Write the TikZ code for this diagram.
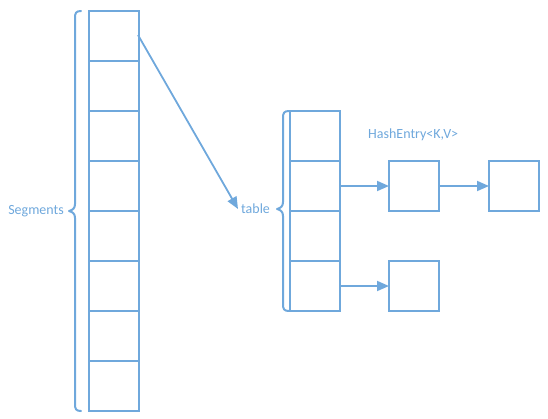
\documentclass[tikz,border=0pt]{standalone}
\usepackage{fontspec}
\setmainfont{Carlito}
\usetikzlibrary{arrows.meta}
\definecolor{lblue}{RGB}{111,168,220}
\begin{document}
\begin{tikzpicture}[x=1pt,y=-1pt,
  cell/.style={draw=lblue,line width=1.4pt,minimum width=50pt,minimum height=50pt,inner sep=0pt,outer sep=0pt},
  lbl/.style={text=lblue,font=\fontsize{14}{16}\selectfont,inner sep=0pt},
  conn/.style={draw=lblue,line width=1.8pt,-{Triangle[length=12pt,width=10pt]}},
  brc/.style={draw=lblue,line width=2pt,line cap=round,line join=round}]
\useasboundingbox (0,0) rectangle (548,418);
% Segments column
\foreach \i in {0,...,7} {
  \node[cell] (s\i) at (114,{36+50*\i}) {};
}
% table column
\foreach \i in {0,...,3} {
  \node[cell] (t\i) at (315,{136+50*\i}) {};
}
% entries
\node[cell] (e1) at (414,186) {};
\node[cell] (e2) at (514,186) {};
\node[cell] (e3) at (414,286) {};
% labels
\node[lbl,anchor=east] (seg) at (64,211) {Segments};
\node[lbl,anchor=west] (tab) at (241,209) {table};
\node[lbl,anchor=west] (he) at (368,135) {HashEntry<K,V>};
% braces
\draw[brc] (81,11) .. controls (76,11) and (75,13) .. (75,18) -- (75,204)
  .. controls (75,208) and (73,210) .. (69,211)
  .. controls (73,212) and (75,214) .. (75,218) -- (75,404)
  .. controls (75,409) and (76,411) .. (81,411);
\draw[brc] (289,111) .. controls (284,111) and (283,113) .. (283,118) -- (283,202)
  .. controls (283,206) and (281,208) .. (277,209)
  .. controls (281,210) and (283,212) .. (283,216) -- (283,304)
  .. controls (283,309) and (284,311) .. (289,311);
% connectors
\coordinate (a0) at (138,35);
\coordinate (a1) at (238,209);
\draw[conn] (a0) -- (a1);
\draw[conn] (t1.east) -- (e1.west);
\draw[conn] (e1.east) -- (e2.west);
\draw[conn] (t3.east) -- (e3.west);
\end{tikzpicture}
\end{document}
